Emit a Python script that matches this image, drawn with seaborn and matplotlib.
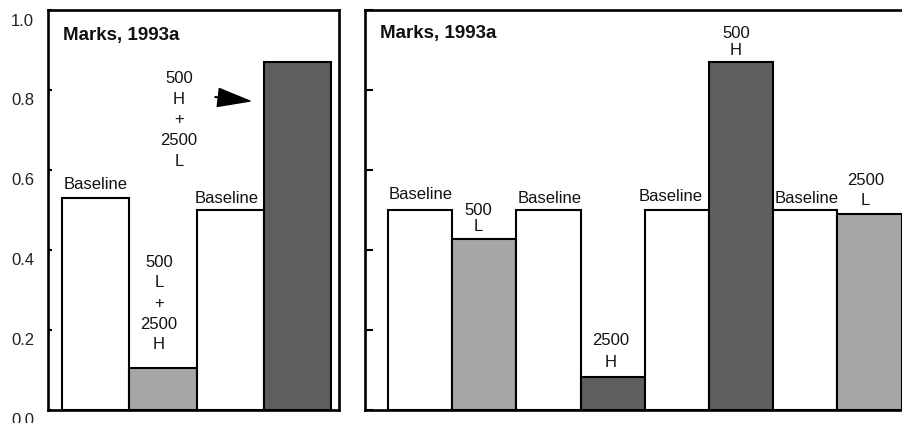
import matplotlib
matplotlib.use("Agg")
import matplotlib.pyplot as plt
import matplotlib.transforms as mtransforms
import seaborn as sns
import pandas as pd

# ---- data ----
left_conditions = ["Baseline", "500 L + 2500 H", "Baseline", "500 H + 2500 L"]
left_values = [0.53, 0.103, 0.50, 0.87]
left_shades = ["white", "light", "white", "dark"]

right_conditions = ["Baseline", "500 L", "Baseline", "2500 H",
                    "Baseline", "500 H", "Baseline", "2500 L"]
right_values = [0.50, 0.427, 0.50, 0.081, 0.50, 0.87, 0.50, 0.49]
right_shades = ["white", "light", "white", "dark",
                "white", "dark", "white", "light"]

yticks = [0.0, 0.2, 0.4, 0.6, 0.8, 1.0]
ytick_labels = ["0.0", "0.2", "0.4", "0.6", "0.8", "1.0"]
panel_title = "Marks, 1993a"

shade_colors = {"white": "#ffffff", "light": "#a6a6a6", "dark": "#5e5e5e"}

sns.set_theme(style="white")
plt.rcParams["font.family"] = ["Liberation Sans", "DejaVu Sans"]

W, H = 903, 423
fig = plt.figure(figsize=(W / 100, H / 100), dpi=100)

def px_axes(l, r, t, b):
    return fig.add_axes([l / W, 1 - b / H, (r - l) / W, (b - t) / H])

axL = px_axes(48, 339, 10, 409.5)
axR = px_axes(365, 903, 10, 409.5)


def draw_bars(ax, conds, vals, shades):
    df = pd.DataFrame({"pos": [str(i) for i in range(len(vals))],
                       "value": vals,
                       "cond": conds})
    pal = [shade_colors[s] for s in shades]
    sns.barplot(data=df, x="pos", y="value", hue="pos", palette=pal,
                width=1.0, edgecolor="black", linewidth=1.5,
                saturation=1, legend=False, ax=ax)
    ax.set_xlabel("")
    ax.set_ylabel("")
    ax.set_xticks([])
    for sp in ax.spines.values():
        sp.set_visible(True)
        sp.set_color("black")
        sp.set_linewidth(1.9)


draw_bars(axL, left_conditions, left_values, left_shades)
draw_bars(axR, right_conditions, right_values, right_shades)

# limits
axL.set_xlim(-0.71, 3.62)
axR.set_xlim(-0.857, 7.52)
for ax in (axL, axR):
    ax.set_ylim(0, 1.0)
    ax.set_yticks(yticks)
    ax.grid(False)

axL.set_yticklabels(ytick_labels, fontsize=12, color="#222222")
axL.tick_params(axis="y", direction="in", length=3, width=1.5,
                colors="black", labelcolor="#222222", pad=10, left=True)
offset = mtransforms.ScaledTranslation(0, -9.5 / 100, fig.dpi_scale_trans)
for lab in axL.get_yticklabels():
    lab.set_transform(lab.get_transform() + offset)

axR.set_yticklabels([])
axR.tick_params(axis="y", direction="in", length=5.5, width=1.5,
                colors="black", left=True)

# titles
axL.text((63 - 48) / 291, 0.935, panel_title, transform=axL.transAxes, ha="left",
         va="center", fontsize=13.5, fontweight="bold", color="#111111")
axR.text((380 - 365) / 538, 0.94, panel_title, transform=axR.transAxes, ha="left",
         va="center", fontsize=13.5, fontweight="bold", color="#111111")

fs = 12
tc = "#111111"
# left panel annotations
axL.text(0.0, 0.564, "Baseline", ha="center", va="center", fontsize=fs, color=tc)
axL.text(0.943, 0.265, "500\nL\n+\n2500\nH", ha="center", va="center",
         fontsize=fs, color=tc, linespacing=1.47)
axL.text(1.24, 0.725, "500\nH\n+\n2500\nL", ha="center", va="center",
         fontsize=fs, color=tc, linespacing=1.47)
axL.text(1.954, 0.529, "Baseline", ha="center", va="center", fontsize=fs, color=tc)
axL.annotate("", xy=(2.296, 0.772), xytext=(1.775, 0.782),
             arrowprops=dict(facecolor="black", edgecolor="black",
                             width=0.3, headwidth=13, headlength=23,
                             shrink=0))

# right panel annotations
axR.text(0.006, 0.537, "Baseline", ha="center", va="center", fontsize=fs, color=tc)
axR.text(0.91, 0.478, "500\nL", ha="center", va="center", fontsize=fs,
         color=tc, linespacing=1.14)
axR.text(2.01, 0.529, "Baseline", ha="center", va="center", fontsize=fs, color=tc)
axR.text(2.975, 0.146, "2500\nH", ha="center", va="center", fontsize=fs,
         color=tc, linespacing=1.56)
axR.text(3.907, 0.532, "Baseline", ha="center", va="center", fontsize=fs, color=tc)
axR.text(4.917, 0.92, "500\nH", ha="center", va="center", fontsize=fs,
         color=tc, linespacing=1.2)
axR.text(6.024, 0.527, "Baseline", ha="center", va="center", fontsize=fs, color=tc)
axR.text(6.936, 0.549, "2500\nL", ha="center", va="center", fontsize=fs,
         color=tc, linespacing=1.44)

fig.savefig("out.png", dpi=100, facecolor="white")
